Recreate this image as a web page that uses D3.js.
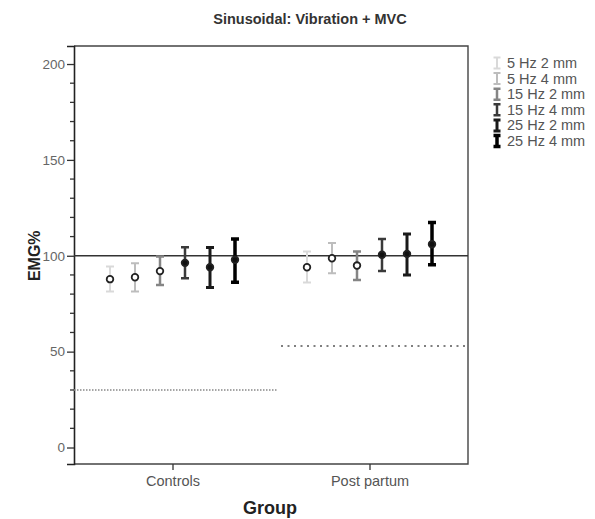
<!DOCTYPE html>
<html>
<head>
<meta charset="utf-8">
<script src="https://cdn.jsdelivr.net/npm/d3@7"></script>
<style>
  body { margin: 0; background: #fff; }
  svg { font-family: "Liberation Sans", Arial, sans-serif; }
</style>
</head>
<body>
<div id="chart"></div>
<script>
// data
var groups = ['Controls', 'Post partum'];
var series = ['5 Hz 2 mm', '5 Hz 4 mm', '15 Hz 2 mm', '15 Hz 4 mm', '25 Hz 2 mm', '25 Hz 4 mm'];
var meanControls = [87.8, 88.8, 92.0, 96.3, 94.0, 97.9];
var lowControls  = [81.3, 81.3, 84.8, 88.3, 83.4, 86.2];
var highControls = [94.4, 96.1, 99.6, 104.5, 104.3, 108.8];
var meanPost = [94.0, 98.7, 94.9, 100.5, 101.0, 106.0];
var lowPost  = [86.0, 90.9, 87.4, 92.1, 90.0, 95.3];
var highPost = [102.2, 106.6, 102.2, 108.7, 111.4, 117.3];
var refLines = [30, 53];   // dotted reference per group
var yTicks = [0, 50, 100, 150, 200];

var width = 595, height = 519;
var plotLeft = 74, plotRight = 468, plotTop = 46, plotBottom = 464;

// styles per series
var barColor = ['#d9d9d9', '#bdbdbd', '#858585', '#3a3a3a', '#1a1a1a', '#000'];
var barWidth = [2, 2, 2.5, 2.5, 3, 3.5];
var hollow = [true, true, true, false, false, false];

var svg = d3.select('#chart').append('svg')
    .attr('width', width)
    .attr('height', height);

var x = d3.scalePoint().domain(groups).range([plotLeft, plotRight]).padding(0.5);
var xBand = d3.scaleBand().domain(groups).range([plotLeft, plotRight]);
var sub = d3.scaleBand().domain(series).range([-75, 75]);
var y = d3.scaleLinear().domain([-8.6, 209.4]).range([plotBottom, plotTop]);

var rows = [];
groups.forEach(function(g, gi) {
    var m = gi == 0 ? meanControls : meanPost;
    var lo = gi == 0 ? lowControls : lowPost;
    var hi = gi == 0 ? highControls : highPost;
    series.forEach(function(s, si) {
        rows.push({ g: g, s: s, si: si, mean: m[si], lo: lo[si], hi: hi[si] });
    });
});

// frame
svg.append('path')
    .attr('d', 'M' + plotLeft + ',' + plotTop + 'H' + plotRight + 'V' + plotBottom + 'H' + plotLeft)
    .attr('fill', 'none')
    .attr('stroke', '#444')
    .attr('stroke-width', 1.4);

// y axis with minor ticks
var yAxis = svg.append('g')
    .attr('transform', 'translate(' + plotLeft + ',0)')
    .call(d3.axisLeft(y).tickValues(yTicks).tickSize(7).tickPadding(2));
yAxis.select('.domain').attr('stroke', '#222').attr('stroke-width', 1.6);
yAxis.selectAll('.tick line').attr('stroke', '#333').attr('stroke-width', 1.3);
yAxis.selectAll('.tick text').attr('fill', '#666').attr('font-size', 13.5);
yAxis.append('g').selectAll('line')
    .data(d3.range(-0, 210, 10).filter(function(v) { return v % 50 != 0; }))
    .join('line')
    .attr('x1', -4).attr('x2', 0)
    .attr('y1', function(d) { return y(d); })
    .attr('y2', function(d) { return y(d); })
    .attr('stroke', '#333')
    .attr('stroke-width', 1.3);

// x axis
var xAxis = svg.append('g')
    .attr('transform', 'translate(0,' + plotBottom + ')')
    .call(d3.axisBottom(x).tickSize(6).tickPadding(6));
xAxis.select('.domain').remove();
xAxis.selectAll('.tick line').attr('stroke', '#333').attr('stroke-width', 1.3);
xAxis.selectAll('.tick text').attr('fill', '#555').attr('font-size', 14.5);

// reference line at 100
svg.append('line')
    .attr('x1', plotLeft).attr('x2', plotRight)
    .attr('y1', y(100)).attr('y2', y(100))
    .attr('stroke', '#333')
    .attr('stroke-width', 1.5);

// dotted group lines
svg.selectAll('.ref')
    .data(groups)
    .join('line')
    .attr('class', 'ref')
    .attr('x1', function(d, i) { return i == 0 ? xBand(d) : xBand(d) + 10; })
    .attr('x2', function(d, i) { return i == 0 ? xBand(d) + xBand.bandwidth() + 7 : xBand(d) + xBand.bandwidth(); })
    .attr('y1', function(d, i) { return y(refLines[i]); })
    .attr('y2', function(d, i) { return y(refLines[i]); })
    .attr('stroke', function(d, i) { return i == 0 ? '#888' : '#555'; })
    .attr('stroke-width', 1.5)
    .attr('stroke-dasharray', function(d, i) { return i == 0 ? '1.5,1.5' : '2,4.5'; });

// error bars
var bars = svg.append('g').selectAll('g')
    .data(rows)
    .join('g')
    .attr('transform', function(d) { return 'translate(' + (x(d.g) + sub(d.s) + sub.bandwidth() / 2) + ',0)'; });

bars.append('path')
    .attr('d', function(d) {
        return 'M-4,' + y(d.hi) + 'H4M0,' + y(d.hi) + 'V' + y(d.lo) + 'M-4,' + y(d.lo) + 'H4';
    })
    .attr('fill', 'none')
    .attr('stroke', function(d) { return barColor[d.si]; })
    .attr('stroke-width', function(d) { return barWidth[d.si]; });

bars.append('circle')
    .attr('cy', function(d) { return y(d.mean); })
    .attr('r', 3.3)
    .attr('fill', function(d) { return hollow[d.si] ? '#fff' : '#111'; })
    .attr('stroke', '#222')
    .attr('stroke-width', 1.8);

// legend
var legend = svg.append('g').selectAll('g')
    .data(series)
    .join('g')
    .attr('transform', function(d, i) { return 'translate(497,' + (63 + i * 15.6) + ')'; });

legend.append('path')
    .attr('d', 'M-3.5,-5.5H3.5M0,-5.5V5.5M-3.5,5.5H3.5')
    .attr('fill', 'none')
    .attr('stroke', function(d, i) { return barColor[i]; })
    .attr('stroke-width', function(d, i) { return barWidth[i]; });

legend.append('text')
    .attr('x', 10)
    .attr('dy', '0.35em')
    .attr('font-size', 14.5)
    .attr('fill', '#555')
    .text(function(d) { return d; });

// titles
svg.append('text')
    .attr('x', 310).attr('y', 24)
    .attr('text-anchor', 'middle')
    .attr('font-size', 14.5)
    .attr('font-weight', 'bold')
    .attr('fill', '#333')
    .text('Sinusoidal: Vibration + MVC');

svg.append('text')
    .attr('x', 270).attr('y', 514)
    .attr('text-anchor', 'middle')
    .attr('font-size', 18)
    .attr('font-weight', 'bold')
    .attr('fill', '#222')
    .text('Group');

svg.append('text')
    .attr('transform', 'translate(40,' + y(100) + ') rotate(-90)')
    .attr('text-anchor', 'middle')
    .attr('font-size', 16)
    .attr('font-weight', 'bold')
    .attr('fill', '#222')
    .text('EMG%');
</script>
</body>
</html>
